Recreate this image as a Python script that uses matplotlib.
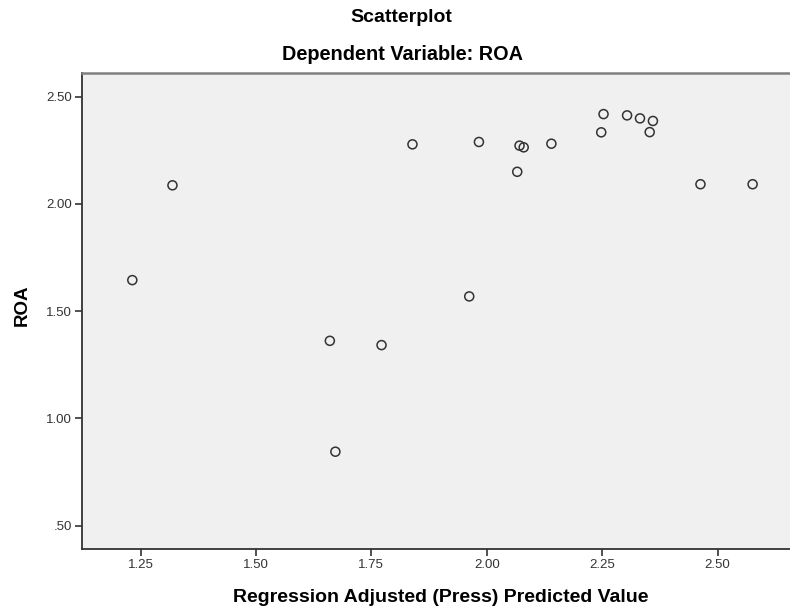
import matplotlib
matplotlib.use('Agg')
import matplotlib.pyplot as plt

plt.rcParams['font.family'] = ['Liberation Sans', 'DejaVu Sans']

# adjusted (press) predicted values vs observed ROA
predicted = [1.232, 1.319, 1.660, 1.672, 1.772, 1.839, 1.962, 1.983, 2.066, 2.071,
             2.080, 2.140, 2.248, 2.253, 2.304, 2.332, 2.353, 2.360, 2.463, 2.576]
roa = [1.645, 2.087, 1.362, 0.845, 1.342, 2.278, 1.569, 2.289, 2.150, 2.272,
       2.264, 2.281, 2.334, 2.419, 2.413, 2.399, 2.335, 2.387, 2.092, 2.092]

x_ticks = [1.25, 1.50, 1.75, 2.00, 2.25, 2.50]
x_labels = ['1.25', '1.50', '1.75', '2.00', '2.25', '2.50']
y_ticks = [0.50, 1.00, 1.50, 2.00, 2.50]
y_labels = ['.50', '1.00', '1.50', '2.00', '2.50']

W, H = 790, 607
fig = plt.figure(figsize=(W / 100, H / 100), dpi=100)
ax = fig.add_axes([82 / W, 1 - 549.3 / H, 1 - 82 / W, (549.3 - 72.7) / H])
ax.set_facecolor('#f0f0f0')

ax.scatter(predicted, roa, s=6.5 ** 2, facecolors='none', edgecolors='#333333', linewidths=1.1, zorder=3)

ax.set_xlim(1.123, 2.657)
ax.set_ylim(0.39, 2.612)
ax.set_xticks(x_ticks)
ax.set_xticklabels(x_labels)
ax.set_yticks(y_ticks)
ax.set_yticklabels(y_labels)
ax.tick_params(axis='both', length=5, width=1.2, color='#333333', labelcolor='#333333', labelsize=9.5, pad=2)

for side in ['left', 'bottom']:
    ax.spines[side].set_color('#333333')
    ax.spines[side].set_linewidth(1.3)
ax.spines['top'].set_color('#808080')
ax.spines['top'].set_linewidth(1.8)
ax.spines['right'].set_visible(False)

ax.set_xlabel('Regression Adjusted (Press) Predicted Value', fontsize=14, fontweight='bold')
ax.set_ylabel('ROA', fontsize=13.5, fontweight='bold')
ax.xaxis.label.set_va('center')
ax.yaxis.label.set_va('center')
ax.xaxis.set_label_coords((441 - 82) / 708, (549.3 - 597) / 476.6)
ax.yaxis.set_label_coords((22 - 82) / 708, (549.3 - 305) / 476.6)

fig.text(401 / W, 1 - 18 / H, 'Scatterplot', ha='center', va='center', fontsize=14, fontweight='bold')
fig.text(402 / W, 1 - 55 / H, 'Dependent Variable: ROA', ha='center', va='center', fontsize=14.3, fontweight='bold')

fig.savefig('out.png', dpi=100)
